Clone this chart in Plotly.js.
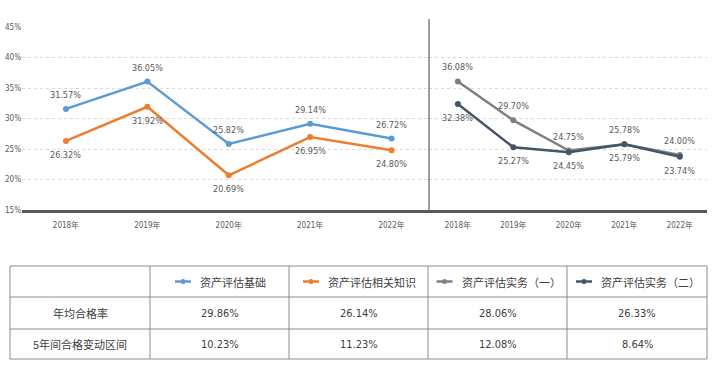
<!DOCTYPE html>
<html>
<head>
<meta charset="utf-8">
<script src="https://cdn.plot.ly/plotly-3.0.1.min.js"></script>
<style>html,body{margin:0;padding:0;background:#fff;}#chart{width:718px;height:382px;}</style>
</head>
<body>
<div id="chart"></div>
<script>
const years = ['2018年','2019年','2020年','2021年','2022年'];
const basics = [31.57, 36.05, 25.82, 29.14, 26.72];
const related = [26.32, 31.92, 20.69, 26.95, 24.80];
const practice1 = [36.08, 29.70, 24.75, 25.78, 24.00];
const practice2 = [32.38, 25.27, 24.45, 25.79, 23.74];
const seriesNames = ['资产评估基础', '资产评估相关知识', '资产评估实务（一）', '资产评估实务（二）'];
const rowLabels = ['年均合格率', '5年间合格变动区间'];
const avgRate = [29.86, 26.14, 28.06, 26.33];
const range5y = [10.23, 11.23, 12.08, 8.64];
const yTicks = [15, 20, 25, 30, 35, 40, 45];

const colors = ['#5B9BD5', '#ED7D31', '#808080', '#44546A'];
const FONT = 'DejaVu Sans Condensed, Noto Sans CJK SC, sans-serif';
const CJK = 'Noto Sans CJK SC, sans-serif';
const W = 718, H = 382;
const px = v => v / W;
const py = v => (H - v) / H;

const series = [
  {y: basics, xa: 'x', ya: 'y', c: colors[0], pos: 1},
  {y: related, xa: 'x', ya: 'y', c: colors[1], pos: -1},
  {y: practice1, xa: 'x2', ya: 'y2', c: colors[2], pos: 1},
  {y: practice2, xa: 'x2', ya: 'y2', c: colors[3], pos: -1}
];

const traces = series.map((s, i) => ({
  type: 'scatter', mode: 'lines+markers', x: years, y: s.y,
  xaxis: s.xa, yaxis: s.ya, name: seriesNames[i],
  line: {color: s.c, width: 2.5}, marker: {color: s.c, size: 6},
  hoverinfo: 'skip', showlegend: false
}));

const annotations = [];
series.forEach(s => {
  s.y.forEach((v, j) => {
    annotations.push({
      x: years[j], y: v, xref: s.xa, yref: s.ya, text: v.toFixed(2) + '%',
      showarrow: false, yshift: 14 * s.pos,
      font: {family: FONT, size: 9, color: '#595959'}
    });
  });
});

// Table geometry
const colX = [10, 150, 289, 428, 567, 707];
const rowY = [266, 297, 329, 359];
const shapes = [];
const bc = '#8c8c8c';
rowY.forEach(y => shapes.push({type: 'line', xref: 'paper', yref: 'paper', x0: px(colX[0]), x1: px(colX[5]), y0: py(y), y1: py(y), line: {color: bc, width: 1}}));
colX.forEach(x => shapes.push({type: 'line', xref: 'paper', yref: 'paper', x0: px(x), x1: px(x), y0: py(rowY[0]), y1: py(rowY[3]), line: {color: bc, width: 1}}));

// divider between panels
shapes.push({type: 'line', xref: 'paper', yref: 'paper', x0: px(429), x1: px(429), y0: py(210), y1: py(19), line: {color: '#7f7f7f', width: 1.5}});

const headY = (rowY[0] + rowY[1]) / 2;
seriesNames.forEach((n, i) => {
  const cx = (colX[i + 1] + colX[i + 2]) / 2;
  const textW = n.length * 11;
  const groupW = 16 + 7 + textW;
  const start = cx - groupW / 2;
  shapes.push({type: 'line', xref: 'paper', yref: 'paper', x0: px(start), x1: px(start + 16), y0: py(headY), y1: py(headY), line: {color: colors[i], width: 2.5}});
  shapes.push({type: 'circle', xref: 'paper', yref: 'paper', x0: px(start + 5.5), x1: px(start + 10.5), y0: py(headY - 2.5), y1: py(headY + 2.5), fillcolor: colors[i], line: {width: 0}});
  annotations.push({xref: 'paper', yref: 'paper', x: px(start + 23), y: py(headY), xanchor: 'left', yanchor: 'middle', text: n, showarrow: false, font: {family: CJK, size: 11, color: '#404040'}});
  [avgRate, range5y].forEach((arr, r) => {
    annotations.push({xref: 'paper', yref: 'paper', x: px(cx), y: py((rowY[r + 1] + rowY[r + 2]) / 2), xanchor: 'center', yanchor: 'middle', text: arr[i].toFixed(2) + '%', showarrow: false, font: {family: FONT, size: 11, color: '#404040'}});
  });
});
rowLabels.forEach((t, r) => {
  annotations.push({xref: 'paper', yref: 'paper', x: px((colX[0] + colX[1]) / 2), y: py((rowY[r + 1] + rowY[r + 2]) / 2), xanchor: 'center', yanchor: 'middle', text: t, showarrow: false, font: {family: CJK, size: 11, color: '#404040'}});
});

const xCommon = {
  type: 'category', showgrid: false, zeroline: false, showline: true,
  linecolor: '#595959', linewidth: 3, ticks: '', fixedrange: true,
  ticklabelstandoff: 5,
  tickfont: {family: FONT, size: 8, color: '#595959'}
};
const yCommon = {
  range: [15, 45], tickmode: 'array', tickvals: yTicks, showgrid: true, gridcolor: '#D9D9D9',
  griddash: 'dot', gridwidth: 1, zeroline: false, showline: false, ticks: ''
};

const layout = {
  width: W, height: H, margin: {l: 0, r: 0, t: 0, b: 0},
  paper_bgcolor: '#fff', plot_bgcolor: '#fff',
  xaxis: Object.assign({}, xCommon, {domain: [px(22), px(429)], range: [-0.54, 4.46], anchor: 'y'}),
  xaxis2: Object.assign({}, xCommon, {domain: [px(429), px(707)], range: [-0.52, 4.49], anchor: 'y2'}),
  yaxis: Object.assign({}, yCommon, {domain: [py(210), py(27)], anchor: 'x',
    ticktext: yTicks.map(v => v + '%'),
    tickfont: {family: FONT, size: 8, color: '#595959'}}),
  yaxis2: Object.assign({}, yCommon, {domain: [py(210), py(27)], anchor: 'x2', showticklabels: false}),
  shapes: shapes, annotations: annotations, showlegend: false
};

Plotly.newPlot('chart', traces, layout, {displayModeBar: false, staticPlot: true});
</script>
</body>
</html>
